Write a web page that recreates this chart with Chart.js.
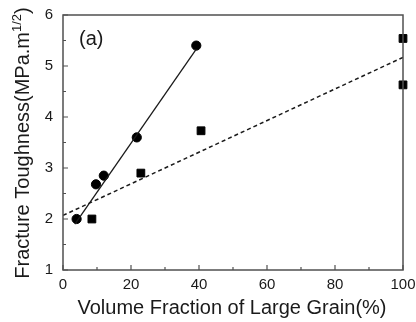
<!DOCTYPE html>
<html>
<head>
<meta charset="utf-8">
<script src="https://cdn.jsdelivr.net/npm/chart.js@4.4.0/dist/chart.umd.min.js"></script>
<style>
  html, body { margin: 0; padding: 0; background: #fff; }
  #wrap { width: 416px; height: 322px; }
</style>
</head>
<body>
<div id="wrap"><canvas id="toughChart" width="416" height="322"></canvas></div>
<script>
// measured points
var circleX = [4, 9.7, 12, 21.7, 39.2];
var circleY = [2.0, 2.68, 2.85, 3.6, 5.4];
var squareX = [8.5, 22.9, 40.6, 100, 100];
var squareY = [2.0, 2.9, 3.73, 5.54, 4.63];
// fit lines (end points)
var solidFitX = [3.5, 39.2];
var solidFitY = [1.9, 5.33];
var dashFitX = [0, 100];
var dashFitY = [2.07, 5.17];
var xTicks = [0, 20, 40, 60, 80, 100];
var yTicks = [1, 2, 3, 4, 5, 6];

function toPoints(xs, ys) {
    return xs.map(function (x, i) { return { x: x, y: ys[i] }; });
}

var inkColor = '#1a1a1a';
var fontName = '"Liberation Sans", Arial, sans-serif';

// frame, inward ticks and titles
var decorPlugin = {
    id: 'decor',
    afterDraw: function (chart) {
        var ctx = chart.ctx;
        var a = chart.chartArea;
        var xs = chart.scales.x, ys = chart.scales.y;
        ctx.save();
        ctx.strokeStyle = '#505050';
        ctx.lineWidth = 1.5;
        ctx.strokeRect(a.left, a.top, a.right - a.left, a.bottom - a.top);

        ctx.lineWidth = 1.2;
        ctx.beginPath();
        for (var v = 0; v <= 100; v += 10) {
            var px = xs.getPixelForValue(v);
            var len = (v % 20 === 0) ? 5 : 3;
            ctx.moveTo(px, a.bottom);
            ctx.lineTo(px, a.bottom - len);
        }
        for (var w = 1; w <= 6; w += 0.5) {
            var py = ys.getPixelForValue(w);
            var l2 = (w % 1 === 0) ? 5 : 3;
            ctx.moveTo(a.left, py);
            ctx.lineTo(a.left + l2, py);
        }
        ctx.stroke();

        ctx.fillStyle = inkColor;
        ctx.font = '20px ' + fontName;
        ctx.textAlign = 'left';
        ctx.textBaseline = 'alphabetic';
        ctx.fillText('(a)', 79, 45);

        // x title
        ctx.textAlign = 'center';
        ctx.font = '20px ' + fontName;
        ctx.fillText('Volume Fraction of Large Grain(%)', 232, 314);

        // y title with superscript
        ctx.translate(29, 143);
        ctx.rotate(-Math.PI / 2);
        var main = 'Fracture Toughness(MPa.m';
        var sup = '1/2';
        var tail = ')';
        ctx.font = '20px ' + fontName;
        var wMain = ctx.measureText(main).width;
        var wTail = ctx.measureText(tail).width;
        ctx.font = '13px ' + fontName;
        var wSup = ctx.measureText(sup).width;
        var start = -(wMain + wSup + wTail) / 2;
        ctx.textAlign = 'left';
        ctx.font = '20px ' + fontName;
        ctx.fillText(main, start, 0);
        ctx.font = '13px ' + fontName;
        ctx.fillText(sup, start + wMain, -8);
        ctx.font = '20px ' + fontName;
        ctx.fillText(tail, start + wMain + wSup, 0);
        ctx.restore();
    }
};

new Chart('toughChart', {
    type: 'scatter',
    data: {
        datasets: [{
            label: 'solid fit',
            type: 'line',
            data: toPoints(solidFitX, solidFitY),
            borderColor: inkColor,
            borderWidth: 1.3,
            pointRadius: 0,
            fill: false
        }, {
            label: 'dashed fit',
            type: 'line',
            data: toPoints(dashFitX, dashFitY),
            borderColor: inkColor,
            borderWidth: 1.5,
            borderDash: [4, 3],
            pointRadius: 0,
            fill: false
        }, {
            label: 'circles',
            data: toPoints(circleX, circleY),
            pointStyle: 'circle',
            pointRadius: 4.6,
            backgroundColor: '#000',
            borderColor: '#000',
            clip: false
        }, {
            label: 'squares',
            data: toPoints(squareX, squareY),
            pointStyle: 'rect',
            pointRadius: 5.5,
            backgroundColor: '#000',
            borderColor: '#000',
            clip: false
        }]
    },
    options: {
        responsive: false,
        animation: false,
        layout: { padding: { left: 0, right: 13, top: 15, bottom: 0 } },
        plugins: {
            legend: { display: false },
            tooltip: { enabled: false }
        },
        scales: {
            x: {
                type: 'linear',
                min: 0,
                max: 100,
                afterFit: function (s) {
                    s.height = 52;
                    s.paddingLeft = 0;
                    s.paddingRight = 0;
                },
                afterBuildTicks: function (s) {
                    s.ticks = xTicks.map(function (v) { return { value: v }; });
                },
                grid: { display: false, drawTicks: false },
                border: { display: false },
                ticks: {
                    color: inkColor,
                    font: { family: fontName, size: 15 },
                    padding: 6
                }
            },
            y: {
                type: 'linear',
                min: 1,
                max: 6,
                afterFit: function (s) {
                    s.width = 63;
                    s.paddingTop = 0;
                    s.paddingBottom = 0;
                },
                afterBuildTicks: function (s) {
                    s.ticks = yTicks.map(function (v) { return { value: v }; });
                },
                grid: { display: false, drawTicks: false },
                border: { display: false },
                ticks: {
                    color: inkColor,
                    font: { family: fontName, size: 15 },
                    padding: 10
                }
            }
        }
    },
    plugins: [decorPlugin]
});
</script>
</body>
</html>
